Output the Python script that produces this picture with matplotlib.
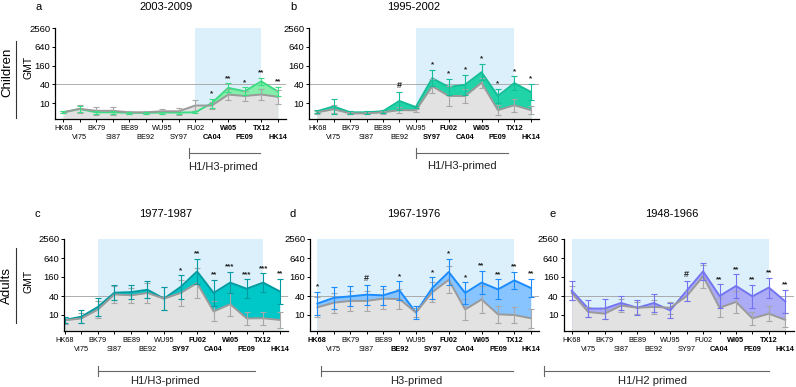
import matplotlib
matplotlib.use("Agg")
import matplotlib.pyplot as plt
import numpy as np

plt.rcParams['font.family'] = ['Liberation Sans', 'DejaVu Sans']

W, H = 796, 387

strains = ['HK68', 'VI75', 'BK79', 'SI87', 'BE89', 'BE92', 'WU95',
           'SY97', 'FU02', 'CA04', 'WI05', 'PE09', 'TX12', 'HK14']
yticks = [10, 40, 160, 640, 2560]

# panel a - children 2003-2009
a_gray = [5.1, 6.6, 5.7, 5.7, 5.1, 5.1, 5.5, 5.5, 8.4, 8.4, 18.8, 17, 19, 16]
a_gray_err = [1.08, 1.34, 1.34, 1.37, 1.13, 1.13, 1.21, 1.28, 1.48, 1.28, 1.51, 1.48, 1.55, 1.71]
a_post = [5.1, 6.5, 5.1, 5.1, 4.9, 4.9, 5.0, 5.0, 5.1, 10, 31, 24, 50, 24]
a_post_err = [1.08, 1.21, 1.10, 1.10, 1.08, 1.08, 1.08, 1.08, 1.08, 1.41, 1.41, 1.34, 1.30, 1.41]
a_sig = ['', '', '', '', '', '', '', '', '', '*', '**', '*', '**', '**']

# panel b - children 1995-2002
b_gray = [5.1, 6.4, 4.7, 4.7, 5.1, 6.0, 5.9, 35, 17, 17, 45, 6.0, 8.6, 6.0]
b_gray_err = [1.10, 1.34, 1.08, 1.08, 1.10, 1.28, 1.10, 1.71, 2.07, 1.63, 1.44, 1.44, 1.63, 1.34]
b_post = [5.5, 7.9, 5.1, 5.1, 5.5, 11.8, 7.5, 63, 33, 39, 98, 17, 44, 23]
b_post_err = [1.13, 1.75, 1.10, 1.10, 1.13, 2.0, 1.10, 1.84, 1.84, 2.07, 1.84, 1.71, 1.63, 1.84]
b_sig = ['', '', '', '', '', '#', '', '*', '*', '*', '*', '*', '*', '*']

# panel c - adults 1977-1987
c_gray = [6.8, 7.8, 15, 45, 42, 50, 33, 50, 103, 13, 22, 7.8, 7.9, 7.0]
c_gray_err = [1.28, 1.44, 1.84, 1.84, 1.71, 2.07, 2.34, 2.65, 2.99, 2.07, 2.34, 1.63, 1.63, 1.84]
c_post = [7.0, 8.8, 18, 51, 53, 63, 33, 77, 240, 50, 106, 68, 106, 56]
c_post_err = [1.28, 1.63, 1.98, 1.71, 1.71, 1.84, 2.34, 2.34, 2.52, 2.65, 2.18, 1.98, 1.98, 2.52]
c_sig = ['', '', '', '', '', '', '', '*', '**', '**', '***', '***', '***', '**']

# panel d - adults 1967-1976
d_gray = [17.5, 24.5, 28, 28, 33, 32, 12, 53, 130, 15, 31, 10.5, 10, 7.9]
d_gray_err = [2.07, 2.07, 2.07, 2.07, 2.07, 2.07, 1.44, 2.07, 2.65, 2.18, 2.65, 1.84, 1.84, 1.98]
d_post = [23, 35, 39, 44, 42, 60, 12, 72, 230, 50, 106, 65, 125, 72]
d_post_err = [2.34, 2.18, 2.07, 2.07, 1.98, 1.98, 1.63, 2.18, 2.65, 2.18, 2.34, 2.07, 1.84, 1.98]
d_sig = ['*', '', '', '#', '', '*', '', '*', '*', '*', '**', '**', '**', '**']

# panel e - adults 1948-1966
e_gray = [50, 12.5, 11, 20, 17, 18, 17, 40, 169, 17, 26, 7.8, 11, 7.0]
e_gray_err = [1.71, 1.44, 1.44, 1.55, 1.55, 1.71, 1.55, 1.44, 2.34, 1.98, 2.18, 1.63, 1.71, 1.71]
e_post = [59, 16, 16, 24, 17, 24, 14, 59, 240, 40, 83, 39, 74, 27]
e_post_err = [1.98, 1.84, 2.07, 1.63, 1.71, 1.98, 1.71, 2.07, 1.84, 2.34, 2.34, 2.34, 2.07, 2.34]
e_sig = ['', '', '', '', '', '', '', '#', '', '**', '**', '**', '**', '**']

gray_line = '#9a9a9a'
gray_fill = '#e2e2e2'
shade = '#dbf0fb'


def px(x, y):
    return x / W, 1 - y / H


def draw_panel(ax, gray, gray_err, post, post_err, sig, line_c, fill_c,
               shade_from, xmin):
    x = np.arange(len(strains))
    gray = np.array(gray)
    post = np.array(post)
    ge = np.array(gray_err)
    pe = np.array(post_err)
    bottom = 10 / 4 ** (16 / 19)

    ax.axvspan(shade_from, 12, color=shade, lw=0, zorder=0)
    ax.axhline(40, color='#a0a0a0', lw=0.6, zorder=0.5)
    ax.fill_between(x, bottom, post, color=fill_c, lw=0, zorder=1)
    ax.fill_between(x, bottom, gray, color=gray_fill, lw=0, zorder=1.1)
    ax.plot(x, post, color=line_c, lw=1.4, zorder=2)
    ax.plot(x, gray, color=gray_line, lw=1.4, zorder=2.1)
    ax.errorbar(x, gray, yerr=[gray - gray / ge, gray * ge - gray], fmt='none',
                ecolor='#a8a8a8', elinewidth=0.8, capsize=2, capthick=0.8, zorder=2.2)
    ax.errorbar(x, post, yerr=[post - post / pe, post * pe - post], fmt='none',
                ecolor=line_c, elinewidth=0.8, capsize=2, capthick=0.8, zorder=2.3)

    for i, s in enumerate(sig):
        if s:
            ax.text(x[i], post[i] * pe[i] * 1.1, s, ha='center', va='bottom',
                    fontsize=6.5 if s == '#' else 5.8, fontweight='bold',
                    color='#222222', zorder=3)

    ax.set_yscale('log')
    ax.set_ylim(bottom, 2560)
    ax.set_xlim(xmin, 13.5)
    ax.set_yticks(yticks)
    ax.set_yticklabels([str(v) for v in yticks], fontsize=6.8)
    ax.yaxis.set_minor_locator(matplotlib.ticker.NullLocator())

    # staggered strain labels: even on the first row, odd on the second
    ax.set_xticks(x[::2])
    ax.set_xticklabels(strains[::2], fontsize=5.3)
    ax.set_xticks(x[1::2], minor=True)
    ax.set_xticklabels(strains[1::2], minor=True, fontsize=5.3)
    for lab, s in zip(ax.get_xticklabels(), sig[::2]):
        if s and s != '#':
            lab.set_fontweight('bold')
    for lab, s in zip(ax.get_xticklabels(minor=True), sig[1::2]):
        if s and s != '#':
            lab.set_fontweight('bold')
    ax.tick_params(axis='x', which='major', length=2.5, width=0.7, pad=1.5)
    ax.tick_params(axis='x', which='minor', length=2.5, width=0.7, pad=8)
    ax.tick_params(axis='y', length=2.5, width=0.7, pad=1)
    for sp in ['top', 'right']:
        ax.spines[sp].set_visible(False)
    for sp in ['left', 'bottom']:
        ax.spines[sp].set_linewidth(0.9)


fig = plt.figure(figsize=(W / 100, H / 100), dpi=100)

ax_a = fig.add_axes([55 / W, 1 - 119 / H, 231 / W, 91 / H])
ax_b = fig.add_axes([309 / W, 1 - 119 / H, 230 / W, 91 / H])
ax_c = fig.add_axes([64 / W, 1 - 331 / H, 224 / W, 92 / H])
ax_d = fig.add_axes([310 / W, 1 - 331 / H, 229 / W, 92 / H])
ax_e = fig.add_axes([563.5 / W, 1 - 331 / H, 230 / W, 92 / H])

draw_panel(ax_a, a_gray, a_gray_err, a_post, a_post_err, a_sig,
           '#3cdc84', '#84eeaa', 8, -0.5)
draw_panel(ax_b, b_gray, b_gray_err, b_post, b_post_err, b_sig,
           '#14bd97', '#20d4a8', 6, -0.5)
draw_panel(ax_c, c_gray, c_gray_err, c_post, c_post_err, c_sig,
           '#009aa0', '#00c8c8', 2, -0.05)
draw_panel(ax_d, d_gray, d_gray_err, d_post, d_post_err, d_sig,
           '#1a8cff', '#88c4ff', 0, -0.45)
draw_panel(ax_e, e_gray, e_gray_err, e_post, e_post_err, e_sig,
           '#7474f2', '#ababf6', 0, -0.5)

# titles and panel letters
for letter, title, lx, tx, y in [('a', '2003-2009', 39, 166, 7),
                                  ('b', '1995-2002', 293, 414, 7),
                                  ('c', '1977-1987', 37, 166, 214),
                                  ('d', '1967-1976', 293, 414, 214),
                                  ('e', '1948-1966', 553, 672, 214)]:
    fig.text(*px(lx, y), letter, fontsize=8, ha='center', va='center')
    fig.text(*px(tx, y), title, fontsize=8, ha='center', va='center')

# row labels
for name, yc, y0, y1 in [('Children', 72, 41, 118), ('Adults', 286, 248, 323)]:
    fig.text(*px(7, yc), name, fontsize=9.5, rotation=90, ha='center', va='center')
    fig.text(*px(29, yc - 5), 'GMT', fontsize=7.5, rotation=90, ha='center', va='center')
    fig.add_artist(plt.Line2D([16 / W, 16 / W], [1 - y0 / H, 1 - y1 / H],
                              color='#333333', lw=0.8))

# priming brackets
for x0, x1, yl, tx, yt, txt in [(189, 260, 153, 223, 167, 'H1/H3-primed'),
                                 (416, 508, 153, 462, 166, 'H1/H3-primed'),
                                 (98, 255, 371, 165, 381, 'H1/H3-primed'),
                                 (321, 513, 371, 416, 381, 'H3-primed'),
                                 (544, 769, 371, 653, 381, 'H1/H2 primed')]:
    fig.add_artist(plt.Line2D([x0 / W, x1 / W], [1 - yl / H, 1 - yl / H],
                              color='#666666', lw=0.8))
    fig.add_artist(plt.Line2D([x0 / W, x0 / W], [1 - (yl - 5) / H, 1 - (yl + 5) / H],
                              color='#666666', lw=0.8))
    fig.text(*px(tx, yt), txt, fontsize=8, ha='center', va='center', color='#222222')

fig.savefig('out.png', dpi=100)
